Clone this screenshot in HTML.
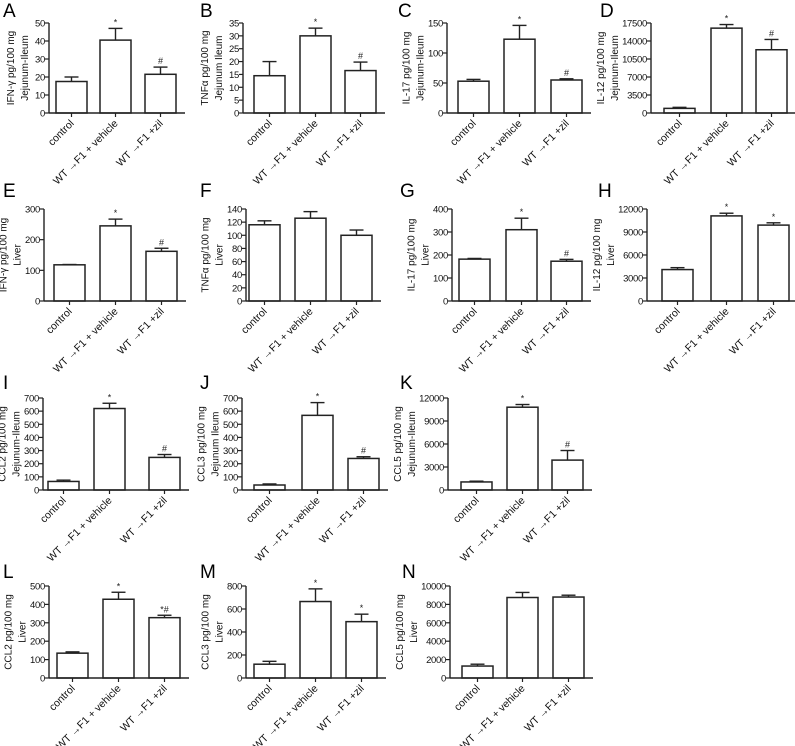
<!DOCTYPE html>
<html><head><meta charset="utf-8"><style>
html,body{margin:0;padding:0;background:#fff;}
svg{display:block;font-family:"Liberation Sans",sans-serif;}
</style></head><body>
<svg id="fig" width="795" height="746" viewBox="0 0 795 746" xmlns="http://www.w3.org/2000/svg"></svg>
<script>
// ---- data ----
const categories = ["control", "WT \u2192F1 + vehicle", "WT \u2192F1 +zil"];
const panelLetters = ["A","B","C","D","E","F","G","H","I","J","K","L","M","N"];
const yLabelLine1 = ["IFN-\u03b3 pg/100 mg","TNF\u03b1 pg/100 mg","IL-17 pg/100 mg","IL-12 pg/100 mg",
  "IFN-\u03b3 pg/100 mg","TNF\u03b1 pg/100 mg","IL-17 pg/100 mg","IL-12 pg/100 mg",
  "CCL2 pg/100 mg","CCL3 pg/100 mg","CCL5 pg/100 mg","CCL2 pg/100 mg","CCL3 pg/100 mg","CCL5 pg/100 mg"];
const yLabelLine2 = ["Jejunum-Ileum","Jejunum Ileum","Jejunum-Ileum","Jejunum-Ileum",
  "Liver","Liver","Liver","Liver","Jejunum-Ileum","Jejunum Ileum","Jejunum-Ileum","Liver","Liver","Liver"];
const yMax = [50,35,150,17500,300,140,400,12000,700,700,12000,500,800,10000];
const yStep = [10,5,50,3500,100,20,100,3000,100,100,3000,100,200,2000];
const means = [
  [17.5,40.5,21.5],[14.5,30,16.5],[53,123,55],[900,16500,12300],
  [118,245,162],[116,126,100],[182,310,173],[4100,11100,9900],
  [65,620,248],[38,568,240],[1050,10800,3900],
  [135,428,328],[120,665,490],[1300,8750,8800]];
const errors = [
  [2.5,6.5,4],[5.5,3,3.3],[3,23,2],[200,700,2000],
  [1,22,10],[6,10,8],[3,50,8],[250,350,300],
  [10,40,22],[8,97,13],[100,350,1250],
  [7,38,13],[25,110,65],[200,550,200]];
const marks = [
  ["","*","#"],["","*","#"],["","*","#"],["","*","#"],
  ["","*","#"],["","",""],["","*","#"],["","*","*"],
  ["","*","#"],["","*","#"],["","*","#"],
  ["","*","*#"],["","*","*"],["","",""]];

// ---- layout (not data) ----
const layout = [
  {ax:49,top:23,bot:113,bx:[56,100,145]},{ax:243,top:23,bot:113,bx:[254,300,345]},
  {ax:447,top:23,bot:113,bx:[458,504,551]},{ax:651,top:23,bot:113,bx:[664,711,756]},
  {ax:44,top:209,bot:301,bx:[54,100,146]},{ax:246,top:209,bot:301,bx:[249,295,341]},
  {ax:452,top:209,bot:301,bx:[459,506,551]},{ax:647,top:209,bot:301,bx:[662,711,758]},
  {ax:43,top:398,bot:490,bx:[48,94,149]},{ax:242,top:398,bot:490,bx:[254,302,348]},
  {ax:448,top:398,bot:490,bx:[461,507,552]},
  {ax:49,top:586,bot:678,bx:[57,103,149]},{ax:246,top:586,bot:678,bx:[254,300,346]},
  {ax:450,top:586,bot:678,bx:[462,507,553]}];
const letterPos = [[3,17],[200,17],[398,17],[600,17],[3,197],[200,197],[400,197],[598,197],
  [3,389],[200,389],[400,389],[3,578],[200,578],[402,578]];

const NS="http://www.w3.org/2000/svg";
const svg=document.getElementById('fig');
function mk(tag,attrs,parent){const e=document.createElementNS(NS,tag);for(const k in attrs)e.setAttribute(k,attrs[k]);(parent||svg).appendChild(e);return e;}
const BW=31, C="#222";

for(let p=0;p<14;p++){
  const L=layout[p];
  const g=mk('g',{});
  
  
  const y=v=>L.bot-(v/yMax[p])*(L.bot-L.top);
  const axEnd=L.bx[2]+BW+9;
  const lt=mk('text',{x:letterPos[p][0],y:letterPos[p][1],'font-size':19,fill:'#000'},g);
  lt.textContent=panelLetters[p];
  
  
  for(let i=0;i<3;i++){
    const x0=L.bx[i], cx=x0+BW/2, yt=y(means[p][i]), ye=y(means[p][i]+errors[p][i]);
    const eb=mk('line',{x1:cx,x2:cx,y1:yt,y2:ye,stroke:C,'stroke-width':1.4},g);
    
    
    mk('line',{x1:cx-7,x2:cx+7,y1:ye,y2:ye,stroke:C,'stroke-width':1.4},g);
    const r=mk('rect',{x:x0,y:yt,width:BW,height:L.bot-yt,fill:'#fff',stroke:C,'stroke-width':1.5},g);
    
    
    if(marks[p][i]){
      const m=mk('text',{x:cx,y:ye-3,'font-size':9,'text-anchor':'middle',fill:'#222'},g);
      m.textContent=marks[p][i];
      
      
    }
    mk('line',{x1:cx,x2:cx,y1:L.bot,y2:L.bot+4,stroke:C,'stroke-width':1.2},g);
    const tx=cx+3, ty=L.bot+11;
    const xl=mk('text',{x:tx,y:ty,'font-size':10.5,'text-anchor':'end',fill:'#111',transform:`rotate(-45 ${tx} ${ty})`},g);
    xl.textContent=categories[i];
    
    
  }
  mk('line',{x1:L.ax,x2:L.ax,y1:L.top,y2:L.bot,stroke:C,'stroke-width':1.4},g);
  mk('line',{x1:L.ax,x2:axEnd,y1:L.bot,y2:L.bot,stroke:C,'stroke-width':1.4},g);
  let maxChars=1;
  for(let v=0;v<=yMax[p]+1e-9;v+=yStep[p]){
    const yy=y(v);
    mk('line',{x1:L.ax-4,x2:L.ax,y1:yy,y2:yy,stroke:C,'stroke-width':1.2},g);
    const t=mk('text',{x:L.ax-4,y:yy+3.5,'font-size':9.5,'text-anchor':'end','letter-spacing':'-0.3',fill:'#111'},g);
    t.textContent=String(v);
    
    
    maxChars=Math.max(maxChars,String(v).length);
  }
  const lx2=Math.min(L.ax-24, L.ax-5-maxChars*4.8-7), lx1=lx2-11, my=(L.top+L.bot)/2;
  const t1=mk('text',{x:lx1,y:my,'font-size':10,'text-anchor':'middle',fill:'#111',transform:`rotate(-90 ${lx1} ${my})`},g);
  t1.textContent=yLabelLine1[p];
  
  
  const t2=mk('text',{x:lx2+3,y:my,'font-size':10,'text-anchor':'middle',fill:'#111',transform:`rotate(-90 ${lx2+3} ${my})`},g);
  t2.textContent=yLabelLine2[p];
  
  
}
</script>
</body></html>
